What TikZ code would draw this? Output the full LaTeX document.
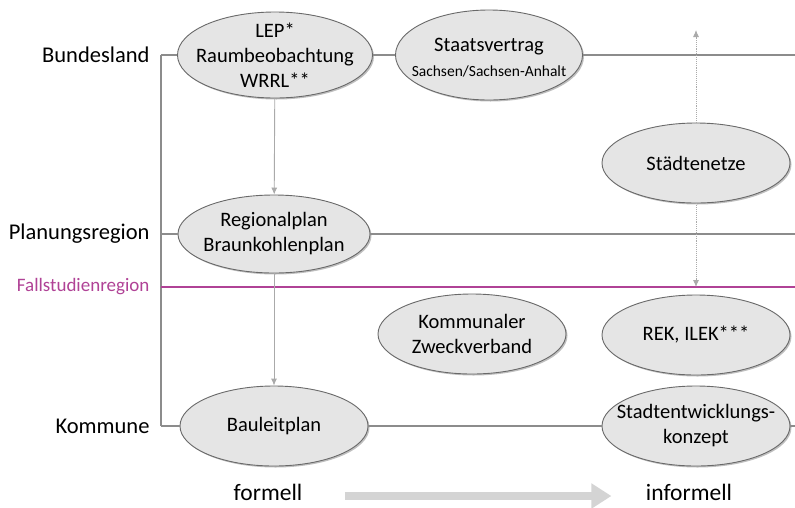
\documentclass[tikz,border=0pt]{standalone}
\usepackage{fontspec}
\setmainfont{Carlito}
\usepackage{tikz}
\usepackage{color}
\usetikzlibrary{shapes.geometric,shadows,arrows.meta}
\definecolor{ellfill}{RGB}{229,229,229}
\definecolor{elldraw}{RGB}{105,105,105}
\definecolor{linegray}{RGB}{140,140,140}
\definecolor{arrowgray}{RGB}{170,170,170}
\definecolor{fallcol}{RGB}{176,66,150}
\definecolor{biggray}{RGB}{212,212,212}

\begin{document}
\begin{tikzpicture}[x=1pt,y=-1pt]
        \tikzstyle{plan node}=[ellipse,draw=elldraw,fill=ellfill,line width=0.9pt,minimum width=188pt,minimum height=80pt,inner sep=0pt,drop shadow={shadow xshift=1.5pt,shadow yshift=-1.5pt,fill=black,opacity=0.25}]
        \tikzstyle{plan text}=[align=center,font=\fontsize{20.5}{25}\selectfont]
        \tikzstyle{level node}=[anchor=east,font=\fontsize{22.5}{27}\selectfont]
        \tikzstyle{level line}=[draw=linegray,line width=1.1pt]
        \tikzstyle{down arrow}=[draw=arrowgray,line width=0.9pt,-{Latex[length=7pt,width=6pt]}]
        \tikzstyle{net arrow}=[draw=arrowgray,line width=0.9pt,densely dotted,-{Latex[length=7pt,width=6pt]}]

        \path[use as bounding box,fill=white] (0,0) rectangle (795,507);

        % Ebenen
        \node[level node] (bundesland) at (153,55) {Bundesland};
        \node[level node] (planungsregion) at (153,234) {Planungsregion};
        \node[level node,text=fallcol,font=\fontsize{19}{22}\selectfont] (fallstudie) at (153,287) {Fallstudienregion};
        \node[level node] (kommune) at (153,426) {Kommune};

        \coordinate (B) at (161,55);
        \coordinate (P) at (161,234);
        \coordinate (F) at (161,287);
        \coordinate (K) at (161,426);
        \coordinate (Bend) at (795,55);
        \coordinate (Pend) at (795,234);
        \coordinate (Fend) at (795,287);
        \coordinate (Kend) at (795,426);
        \coordinate (netztop) at (696,30);
        \coordinate (netzbot) at (696,287);

        % Instrumente
        \node[plan node,minimum width=195pt,minimum height=86pt,label={[plan text]center:LEP*\\Raumbeobachtung\\WRRL**}] (LEP) at (275,55) {};
        \node[plan node,minimum width=187pt,minimum height=90pt,label={[plan text,yshift=-3pt]center:Staatsvertrag\\{\fontsize{15.5}{19}\selectfont Sachsen/Sachsen-Anhalt}}] (Staat) at (489,55) {};
        \node[plan node,minimum width=192pt,minimum height=78pt,label={[plan text]center:Regionalplan\\Braunkohlenplan}] (Regio) at (274,234) {};
        \node[plan node,label={[plan text]center:Städtenetze}] (Netze) at (696,163) {};
        \node[plan node,label={[plan text]center:Kommunaler\\Zweckverband}] (Zweck) at (472,334) {};
        \node[plan node,label={[plan text]center:REK, ILEK***}] (REK) at (696,335) {};
        \node[plan node,label={[plan text]center:Bauleitplan}] (Bau) at (274,426) {};
        \node[plan node,label={[plan text]center:Stadtentwicklungs-\\konzept}] (STEK) at (696,426) {};

        \draw[level line] (B) -- (K);
        \draw[level line] (B) -- (LEP);
        \draw[level line] (LEP) -- (Staat);
        \draw[level line] (Staat) -- (Bend);
        \draw[level line] (P) -- (Regio);
        \draw[level line] (Regio) -- (Pend);
        \draw[draw=fallcol,line width=1.3pt] (F) -- (Fend);
        \draw[level line] (K) -- (Bau);
        \draw[level line] (Bau) -- (STEK);
        \draw[level line] (STEK) -- (Kend);

        \draw[down arrow] (LEP) -- (Regio);
        \draw[down arrow] (Regio) -- (Bau);
        \draw[net arrow] (Netze) -- (netztop);
        \draw[net arrow] (Netze) -- (netzbot);

        % formell -> informell
        \node[font=\fontsize{23.5}{28}\selectfont] (formell) at (268,492) {formell};
        \node[font=\fontsize{23.5}{28}\selectfont] (informell) at (689,492) {informell};
        \draw[draw=biggray,line width=8pt,shorten <=39pt,shorten >=31pt,-{Triangle[length=20pt,width=24pt]}] ([yshift=-4pt]formell.east) -- ([yshift=-4pt]informell.west);
    \end{tikzpicture}
\end{document}
